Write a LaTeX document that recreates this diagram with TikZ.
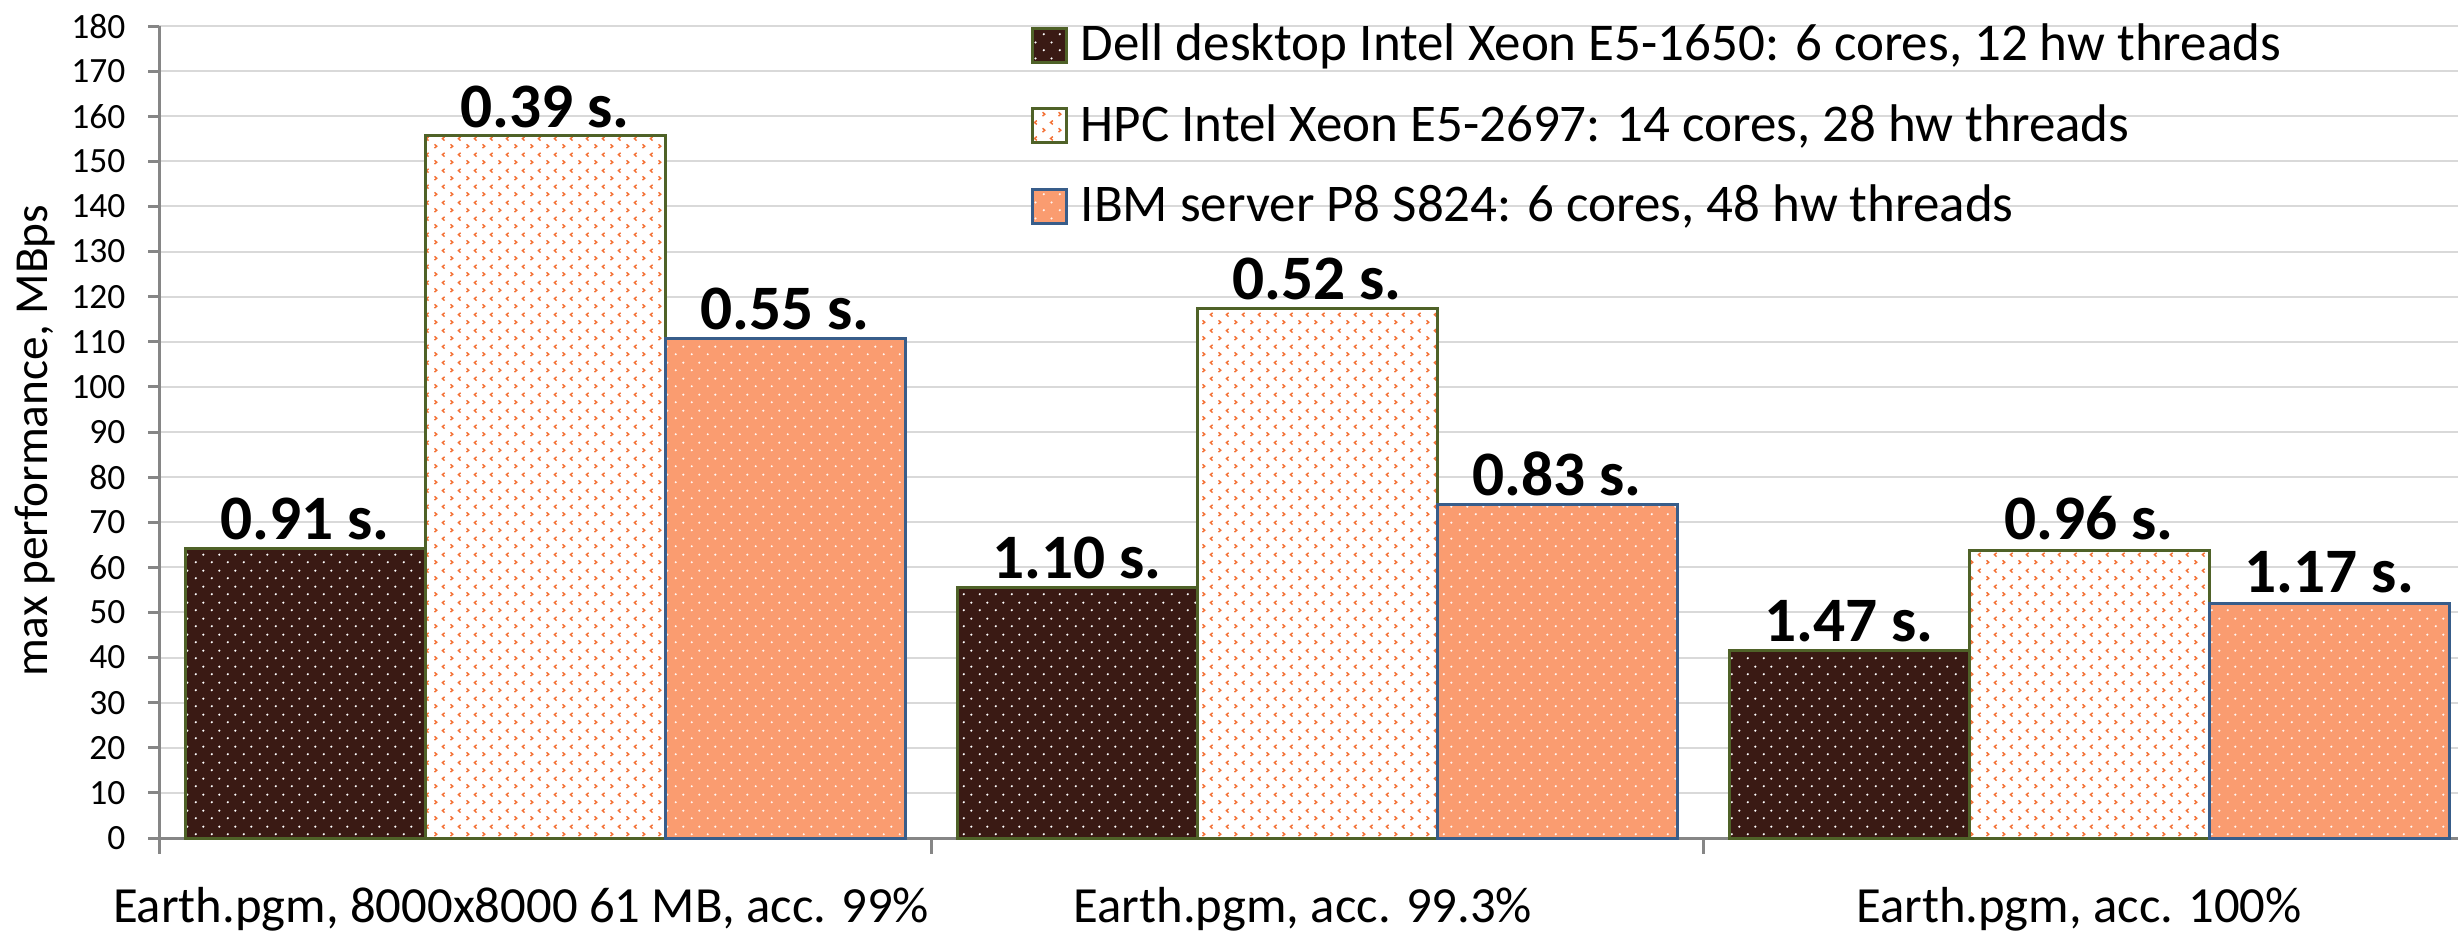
\documentclass[tikz,border=0pt]{standalone}
\usepackage{fontspec}
\setmainfont{Carlito}
\usepackage{xcolor}
\usetikzlibrary{patterns.meta}

\definecolor{delldark}{RGB}{58,26,20}
\definecolor{dellolive}{RGB}{79,98,40}
\definecolor{hpcorange}{RGB}{243,112,52}
\definecolor{ibmsalmon}{RGB}{250,156,112}
\definecolor{ibmblue}{RGB}{56,93,138}
\definecolor{gridgray}{RGB}{217,217,217}
\definecolor{axisgray}{RGB}{134,134,134}

\tikzdeclarepattern{
  name=whitedots,
  type=uncolored,
  bounding box={(0pt,0pt) and (4.8pt,4.8pt)},
  tile size={(4.8pt,4.8pt)},
  code={
    \fill (1.2pt,1.2pt) circle (0.38pt);
    \fill (3.6pt,3.6pt) circle (0.38pt);
  }
}
\tikzdeclarepattern{
  name=chevrons,
  type=uncolored,
  bounding box={(0pt,0pt) and (4.8pt,4.8pt)},
  tile size={(4.8pt,4.8pt)},
  code={
    \draw[line width=0.45pt] (0.8pt,0.6pt) -- (1.5pt,1.2pt) -- (0.8pt,1.8pt);
    \draw[line width=0.45pt] (4.0pt,3.0pt) -- (3.3pt,3.6pt) -- (4.0pt,4.2pt);
  }
}

\begin{document}
\begin{tikzpicture}[x=0.3pt, y=-0.3pt,
    gridline/.style={draw=gridgray, line width=0.6pt},
    axisline/.style={draw=axisgray, line width=0.9pt},
    ticklabel/.style={anchor=east, inner sep=0pt, font=\fontsize{10.65pt}{12pt}\selectfont},
    catlabel/.style={anchor=base, inner sep=0pt, font=\fontsize{15.2pt}{18pt}\selectfont},
    barlabel/.style={anchor=base, inner sep=0pt, font=\bfseries\fontsize{19pt}{22pt}\selectfont},
    legendtext/.style={anchor=base west, inner sep=0pt, font=\fontsize{15.9pt}{18pt}\selectfont},
    dellbar/.style={draw=dellolive, line width=0.9pt, preaction={fill=delldark}, pattern=whitedots, pattern color=white},
    hpcbar/.style={draw=dellolive, line width=0.9pt, preaction={fill=white}, pattern=chevrons, pattern color=hpcorange},
    ibmbar/.style={draw=ibmblue, line width=0.9pt, preaction={fill=ibmsalmon}, pattern=whitedots, pattern color=white!90!ibmsalmon}]
    \useasboundingbox (0,0) rectangle (2458,933);

    % =========================================================
    % GRID, AXES AND TICK LABELS
    % =========================================================
    \foreach \v in {10,20,...,180} {
        \draw[gridline] (159,{838-4.511*\v}) -- (2458,{838-4.511*\v});
    }
    \foreach \v in {0,10,...,180} {
        \draw[axisline] (148,{838-4.511*\v}) -- (159,{838-4.511*\v});
        \node[ticklabel] (tick\v) at (126,{838-4.511*\v}) {\v};
    }
    \draw[axisline] (159,26) -- (159,854);
    \draw[axisline] (159,838) -- (2458,838);
    \draw[axisline] (931,838) -- (931,854);
    \draw[axisline] (1703,838) -- (1703,854);

    \node[rotate=90, anchor=base, inner sep=0pt, font=\fontsize{14.2pt}{17pt}\selectfont] (ytitle) at (47,441) {max performance, MBps};

    % =========================================================
    % BARS: EARTH.PGM, THREE ACCURACY SETTINGS
    % =========================================================
    \draw[dellbar] (185,838) rectangle (425,548);
    \draw[hpcbar]  (425,838) rectangle (665,135.6);
    \draw[ibmbar]  (665,838) rectangle (905,338.2);

    \draw[dellbar] (957,838) rectangle (1197,587.2);
    \draw[hpcbar]  (1197,838) rectangle (1437,308);
    \draw[ibmbar]  (1437,838) rectangle (1677,504.2);

    \draw[dellbar] (1729,838) rectangle (1969,650);
    \draw[hpcbar]  (1969,838) rectangle (2209,550);
    \draw[ibmbar]  (2209,838) rectangle (2449,603.4);

    % timings above the bars
    \node[barlabel] (dellA) at (305,539) {0.91 s.};
    \node[barlabel] (hpcA)  at (545,127) {0.39 s.};
    \node[barlabel] (ibmA)  at (785,329) {0.55 s.};
    \node[barlabel] (dellB) at (1077,578) {1.10 s.};
    \node[barlabel] (hpcB)  at (1317,299) {0.52 s.};
    \node[barlabel] (ibmB)  at (1557,495) {0.83 s.};
    \node[barlabel] (dellC) at (1849,641) {1.47 s.};
    \node[barlabel] (hpcC)  at (2089,539) {0.96 s.};
    \node[barlabel] (ibmC)  at (2329,592) {1.17 s.};

    % category names
    \node[catlabel] (catA) at (521,922) {Earth.pgm, 8000x8000 61 MB, acc. 99\%};
    \node[catlabel] (catB) at (1303,922) {Earth.pgm, acc. 99.3\%};
    \node[catlabel] (catC) at (2079,922) {Earth.pgm, acc. 100\%};

    % =========================================================
    % LEGEND
    % =========================================================
    \draw[dellbar] (1032,28) rectangle (1066,62);
    \node[legendtext] (legdell) at (1080,60) {Dell desktop Intel Xeon E5-1650: 6 cores, 12 hw threads};
    \draw[hpcbar] (1032,108) rectangle (1066,142);
    \node[legendtext] (leghpc) at (1080,141) {HPC Intel Xeon E5-2697: 14 cores, 28 hw threads};
    \draw[ibmbar] (1032,189) rectangle (1066,223);
    \node[legendtext] (legibm) at (1080,221) {IBM server P8 S824: 6 cores, 48 hw threads};
\end{tikzpicture}
\end{document}
